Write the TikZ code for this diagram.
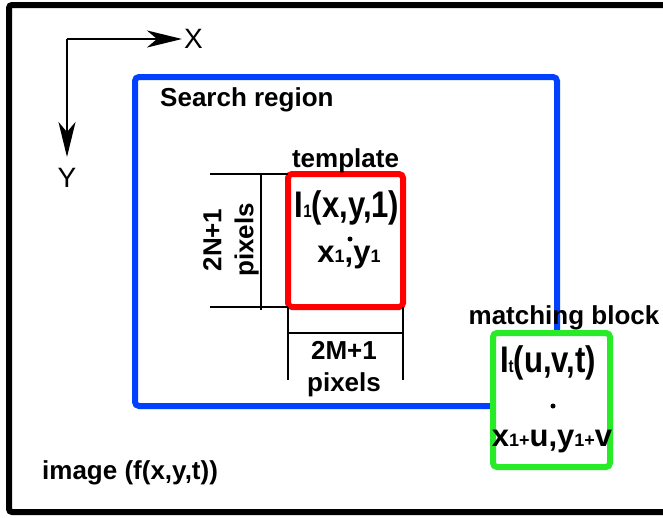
\documentclass[tikz,border=0pt]{standalone}
\usepackage{fontspec}
\usepackage{graphicx}
\setmainfont{Liberation Sans}
\usetikzlibrary{arrows.meta, positioning}
\definecolor{regionblue}{RGB}{0, 64, 255}
\definecolor{templred}{RGB}{255, 0, 0}
\definecolor{matchgreen}{RGB}{40, 235, 40}
\newcommand{\lowidx}[1]{{\fontsize{18}{18}\selectfont #1}}
\newcommand{\narrowtxt}[1]{\scalebox{0.84}[1]{#1}}

\begin{document}
\begin{tikzpicture}[
  x=1pt, y=-1pt,
  box/.style     = {rectangle, rounded corners=4pt, line width=6pt, inner sep=0pt, outer sep=0pt},
  lbl/.style     = {font=\fontsize{26}{32}\selectfont\bfseries, inner sep=0pt},
  formula/.style = {font=\fontsize{37}{40}\selectfont\bfseries, inner sep=0pt},
  coords/.style  = {font=\fontsize{31}{34}\selectfont\bfseries, inner sep=0pt},
  spot/.style    = {circle, fill=black, inner sep=0pt, minimum size=5pt},
  dim/.style     = {line width=2.7pt},
  axis/.style    = {line width=2.5pt, -{Stealth[length=35pt, width=17pt, inset=10pt]}},
  axislbl/.style = {font=\fontsize{28}{28}\selectfont, inner sep=0pt}
]
\useasboundingbox (0,0) rectangle (663,517);
\clip (0,0) rectangle (663,517);
\draw[line width=6pt, rounded corners=3pt] (9,5) rectangle (700,512);

\coordinate (origin) at (67,39);
\coordinate (xtip) at (182,39);
\coordinate (ytip) at (67,157);
\node[axislbl, right=2pt of xtip] (X) {X};
\node[axislbl, below=11pt of ytip] (Y) {Y};
\draw[axis] (origin) -- (xtip);
\draw[axis] (origin) -- (ytip);

\node[box, draw=regionblue, minimum width=422pt, minimum height=329pt] (region) at (346,241.5) {};
\node[lbl, anchor=west] (regionlbl) at (160,100) {Search region};

\node[box, draw=templred, minimum width=115pt, minimum height=133pt] (tmpl) at (345.5,240.5) {};
\node[lbl, above=1pt of tmpl] (tmpllbl) {template};
\node[formula] (tmplval) at (347,208) {\narrowtxt{I\lowidx{1}(x,y,1)}};
\node[spot] (tmplpix) at (350,239) {};
\node[coords] (tmplpos) at (349,258) {x\lowidx{1},y\lowidx{1}};

\draw[dim] (tmpl.north west) -- ++(-78,0);
\draw[dim] (tmpl.south west) -- ++(-78,0);
\draw[dim] ([xshift=-27pt]tmpl.north west) -- ++(0,136);
\draw[dim] (tmpl.south west) -- ++(0,73);
\draw[dim] (tmpl.south east) -- ++(0,73);
\draw[dim] ([yshift=-26pt]tmpl.south west) -- ([yshift=-26pt]tmpl.south east);
\node[lbl, rotate=90, align=center] (nsize) at (231,240) {2N+1\\pixels};
\node[lbl, align=center] (msize) at (344,369) {2M+1\\pixels};

\node[box, draw=matchgreen, fill=white, minimum width=117pt, minimum height=134pt] (match) at (551.5,400) {};
\node[lbl] (matchlbl) at (564,318) {matching block};
\node[formula] (matchval) at (548,363) {\narrowtxt{I\lowidx{t}(u,v,t)}};
\node[spot] (matchpix) at (553,406) {};
\node[coords] (matchpos) at (552,442) {x\lowidx{1+}u,y\lowidx{1+}v};

\node[lbl, anchor=west] (imglbl) at (42,473) {image (f(x,y,t))};
\end{tikzpicture}
\end{document}
